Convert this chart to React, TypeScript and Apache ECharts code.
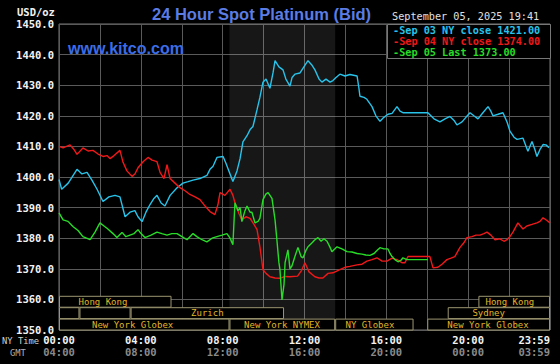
import React, { useEffect, useRef } from "react";
import * as echarts from "echarts";

// [hour of NY day, price]
const sep03: [number, number][] = [
  [0, 1399.2], [0.13, 1396], [0.45, 1398], [0.88, 1402.5], [1.12, 1401], [1.37, 1401.5], [1.61, 1399],
  [1.86, 1396], [2.15, 1392], [2.44, 1393.5], [2.74, 1394], [2.98, 1393.5], [3.23, 1387], [3.47, 1388.5],
  [3.71, 1389], [3.86, 1387], [4.06, 1385.4], [4.25, 1388.5], [4.45, 1391], [4.64, 1393], [4.79, 1394],
  [4.99, 1391.5], [5.18, 1390.5], [5.43, 1394], [5.77, 1396.5], [6.06, 1398], [6.31, 1398.5], [6.55, 1399],
  [6.89, 1399.5], [7.23, 1400.5], [7.38, 1402.5], [7.53, 1403.5], [7.72, 1406.4], [8.02, 1406.7],
  [8.16, 1404.5], [8.36, 1401], [8.5, 1398.5], [8.7, 1402], [8.85, 1406], [8.99, 1411.5], [9.19, 1413.5],
  [9.34, 1415.5], [9.48, 1416.5], [9.68, 1422], [9.82, 1426], [9.97, 1431], [10.12, 1432], [10.31, 1429],
  [10.46, 1434], [10.56, 1438], [10.75, 1436], [10.95, 1435], [11.09, 1432], [11.29, 1429.7], [11.39, 1432.5],
  [11.53, 1433.6], [11.78, 1434], [11.97, 1436], [12.17, 1438], [12.37, 1436.5], [12.51, 1435], [12.71, 1432],
  [12.85, 1431], [13.05, 1432], [13.25, 1431], [13.39, 1431.5], [13.54, 1432.5], [13.73, 1433.6], [13.98, 1433],
  [14.22, 1433.5], [14.57, 1433], [14.66, 1429], [14.71, 1426.4], [14.91, 1426], [15.05, 1425.4], [15.3, 1423],
  [15.49, 1420], [15.69, 1418.2], [15.88, 1419.5], [16.08, 1420.5], [16.28, 1420.8], [16.52, 1423],
  [16.67, 1421.5], [16.81, 1421], [18.03, 1421], [18.33, 1419], [18.62, 1418], [18.87, 1419], [19.11, 1419.8],
  [19.31, 1418.5], [19.45, 1417], [19.7, 1418], [19.89, 1419.5], [20.09, 1421], [20.28, 1420], [20.48, 1419],
  [20.72, 1421], [20.97, 1423], [21.11, 1421.5], [21.21, 1420], [21.46, 1420.5], [21.7, 1421], [21.9, 1418],
  [22.04, 1415], [22.24, 1413], [22.39, 1412.3], [22.68, 1412.7], [22.92, 1408.4], [23.12, 1411.6],
  [23.26, 1409], [23.36, 1406.7], [23.51, 1409], [23.66, 1410.6], [23.8, 1410.5], [23.95, 1409.6],
];

const sep04: [number, number][] = [
  [0, 1410], [0.2, 1409.5], [0.54, 1410.5], [0.73, 1409], [0.88, 1407.4], [1.17, 1409.5], [1.42, 1408.5],
  [1.66, 1408.7], [1.91, 1407.5], [2.15, 1406.7], [2.35, 1407], [2.49, 1406], [2.69, 1407], [2.98, 1408.7],
  [3.13, 1404.8], [3.32, 1402], [3.57, 1400.2], [3.71, 1401], [3.86, 1403], [4.11, 1405], [4.35, 1406.4],
  [4.55, 1405.5], [4.79, 1405], [4.94, 1401.5], [5.13, 1399.5], [5.28, 1404], [5.43, 1399.5], [5.67, 1398],
  [5.91, 1396.5], [6.16, 1395.5], [6.4, 1394.3], [6.65, 1393.5], [6.89, 1392.6], [7.14, 1390.5], [7.38, 1388.7],
  [7.62, 1387.7], [7.77, 1391], [7.87, 1394.9], [8.11, 1394], [8.36, 1396], [8.5, 1394], [8.6, 1391.6],
  [8.8, 1388], [8.94, 1386], [9.14, 1387], [9.34, 1386.5], [9.53, 1384.5], [9.68, 1382.8], [9.82, 1377.2],
  [9.97, 1369.7], [10.12, 1368.5], [10.31, 1367.4], [10.56, 1367], [10.8, 1366.9], [11.05, 1367.5],
  [11.29, 1367.4], [11.66, 1367.6], [11.86, 1369.5], [12.02, 1372], [12.22, 1369], [12.51, 1367.4],
  [12.71, 1367], [12.9, 1367], [13.15, 1368.5], [13.39, 1368.7], [13.73, 1369.7], [13.98, 1370.5],
  [14.22, 1370.8], [14.57, 1371.3], [14.81, 1371.5], [15.05, 1372.5], [15.3, 1373], [15.54, 1373.6],
  [15.79, 1372.5], [16.03, 1372.5], [16.28, 1373.5], [16.52, 1373], [16.76, 1372], [16.91, 1372],
  [17.06, 1374], [18.13, 1374], [18.28, 1370.3], [18.52, 1370.5], [18.72, 1371.5], [18.96, 1373],
  [19.16, 1373.5], [19.35, 1374], [19.6, 1377], [19.79, 1378.5], [19.94, 1380.2], [20.19, 1380.5],
  [20.38, 1381], [20.58, 1381], [20.77, 1381.5], [20.92, 1382], [21.11, 1381], [21.31, 1379.5], [21.55, 1379.8],
  [21.75, 1379], [21.9, 1379.5], [22.04, 1380.5], [22.19, 1382], [22.43, 1385], [22.68, 1383], [22.87, 1384],
  [23.12, 1384.5], [23.36, 1385], [23.51, 1385.5], [23.66, 1386.7], [23.85, 1385.8], [24, 1385],
];

const sep05: [number, number][] = [
  [0, 1388.3], [0.2, 1386], [0.44, 1385.5], [0.68, 1383.8], [0.93, 1382.5], [1.17, 1380.5], [1.52, 1379.5],
  [1.76, 1382], [2.0, 1385], [2.2, 1384], [2.39, 1383], [2.64, 1381.5], [2.83, 1380.2], [3.08, 1381.9],
  [3.27, 1380.5], [3.47, 1381], [3.67, 1381.5], [3.86, 1382.8], [4.01, 1381.5], [4.2, 1380.2], [4.5, 1381],
  [4.79, 1382], [5.03, 1381.5], [5.28, 1381], [5.52, 1381.5], [5.77, 1381.5], [6.01, 1380.5], [6.26, 1379.5],
  [6.55, 1381.5], [6.74, 1380.5], [6.99, 1379.5], [7.23, 1378.8], [7.48, 1380], [7.72, 1380.5], [7.97, 1381],
  [8.21, 1381.5], [8.36, 1380], [8.5, 1377.9], [8.6, 1391.6], [8.75, 1389], [8.85, 1390], [8.94, 1385.4],
  [9.09, 1389], [9.19, 1390.5], [9.34, 1388.5], [9.43, 1388.5], [9.58, 1385], [9.73, 1385.5], [9.82, 1386.5],
  [9.97, 1392.6], [10.12, 1394.5], [10.22, 1394.9], [10.41, 1393], [10.56, 1386], [10.65, 1379.5],
  [10.75, 1372], [10.8, 1369.7], [10.9, 1359.8], [11.0, 1365], [11.05, 1372], [11.19, 1376.2], [11.29, 1370],
  [11.39, 1371], [11.53, 1374], [11.68, 1377], [11.83, 1374], [11.93, 1373.6], [12.07, 1376], [12.17, 1377.2],
  [12.37, 1378.5], [12.51, 1379.5], [12.66, 1380.2], [12.81, 1379], [12.95, 1379.8], [13.1, 1379],
  [13.25, 1377], [13.34, 1375.6], [13.59, 1377.2], [13.83, 1376.5], [14.08, 1375.6], [14.32, 1375.5],
  [14.57, 1375], [14.81, 1374.8], [15.0, 1374.5], [15.2, 1374.4], [15.4, 1375], [15.54, 1376], [15.69, 1376.9],
  [15.88, 1376.5], [16.08, 1376.5], [16.18, 1375], [16.28, 1374], [16.42, 1373], [16.57, 1372.3],
  [16.72, 1372.8], [16.81, 1373.6], [17.01, 1373], [18.03, 1373],
];

const nyTimeLabels = ["00:00", "04:00", "08:00", "12:00", "16:00", "20:00", "23:59"];
const gmtLabels = ["04:00", "08:00", "12:00", "16:00", "20:00", "00:00", "03:59"];

const legendTexts = ["-Sep 03 NY close 1421.00", "-Sep 04 NY close 1374.00", "-Sep 05 Last 1373.00"];

// NYMEX trading hours shading
const nymexHours = [8.333, 13.5];

// sessions: [startHour, endHour, row (0 = bottom), labelCenterHour]
const sessionSpans: [number, number, number, number][] = [
  [0, 5.5, 2, 2.15],
  [20.5, 24, 2, 22.04],
  [0, 1, 1, 0.5],
  [1, 3.5, 1, 2.25],
  [3.5, 11, 1, 7.25],
  [19, 24, 1, 21.0],
  [0, 8.333, 0, 3.6],
  [8.333, 13.5, 0, 10.9],
  [13.5, 17.33, 0, 15.2],
  [18, 24, 0, 20.97],
];
const sessionNames = [
  "Hong Kong", "Hong Kong", "", "", "Zurich", "Sydney",
  "New York Globex", "New York NYMEX", "NY Globex", "New York Globex",
];

const MONO = "'DejaVu Sans Mono', monospace";
const CYAN = "#27c3ea";
const RED = "#f01818";
const GREEN = "#27dd27";

export default function App() {
  const ref = useRef<HTMLDivElement>(null);

  useEffect(() => {
    document.body.style.margin = "0";
    document.body.style.background = "#000";
    const chart = echarts.init(ref.current!, null, { renderer: "svg" });
    const rowH = 11.4;
    chart.setOption({
      animation: false,
      backgroundColor: "#000",
      grid: { left: 59, right: 10, top: 24, bottom: 34, show: true, borderColor: "#777", borderWidth: 1 },
      xAxis: {
        type: "value",
        min: 0,
        max: 24,
        interval: 2,
        axisLine: { show: false },
        axisTick: { show: false },
        splitLine: { show: true, lineStyle: { color: "#5a5a5a", width: 1 } },
        axisLabel: {
          margin: 4,
          showMaxLabel: true,
          alignMaxLabel: "right",
          formatter: (v: number) => {
            if (v % 4 !== 0) return "";
            const i = v / 4;
            return `{a|${nyTimeLabels[i]}}\n{b|${gmtLabels[i]}}`;
          },
          rich: {
            a: { color: "#f2f2f2", fontFamily: MONO, fontSize: 10.5, fontWeight: "bold", lineHeight: 12 },
            b: { color: "#8a8a8a", fontFamily: MONO, fontSize: 10.5, fontWeight: "bold", lineHeight: 12 },
          },
        },
      },
      yAxis: {
        type: "value",
        min: 1350,
        max: 1450,
        interval: 10,
        axisLine: { show: false },
        axisTick: { show: false },
        splitLine: { show: true, lineStyle: { color: "#5a5a5a", width: 1 } },
        axisLabel: {
          margin: 5,
          color: "#f2f2f2",
          fontFamily: MONO,
          fontSize: 10.5,
          fontWeight: "bold",
          formatter: (v: number) => v.toFixed(1),
        },
      },
      series: [
        {
          type: "custom",
          coordinateSystem: "cartesian2d",
          silent: true,
          clip: false,
          z: 1,
          encode: { x: [0, 1], y: 2 },
          data: sessionSpans,
          renderItem: (params: any, api: any) => {
            const s = api.coord([api.value(0), 1350]);
            const e = api.coord([api.value(1), 1350]);
            const c = api.coord([api.value(3), 1350]);
            const row = api.value(2);
            const yTop = s[1] - (row + 1) * rowH;
            return {
              type: "group",
              children: [
                {
                  type: "rect",
                  shape: { x: s[0] + 0.5, y: yTop + 0.5, width: e[0] - s[0] - 1, height: rowH - 0.5 },
                  style: { fill: "#000", stroke: "#9c9670", lineWidth: 1 },
                },
                {
                  type: "text",
                  x: c[0],
                  y: yTop + rowH / 2 + 0.5,
                  style: {
                    text: sessionNames[params.dataIndex],
                    fill: "#e2b62a",
                    font: `9px ${MONO}`,
                    align: "center",
                    verticalAlign: "middle",
                  },
                },
              ],
            };
          },
        },
        {
          type: "line",
          data: sep03,
          showSymbol: false,
          z: 3,
          lineStyle: { color: CYAN, width: 1.4 },
          markArea: {
            silent: true,
            itemStyle: { color: "rgba(255,255,255,0.09)" },
            data: [[{ xAxis: nymexHours[0] }, { xAxis: nymexHours[1] }]],
          },
        },
        { type: "line", data: sep04, showSymbol: false, z: 4, lineStyle: { color: RED, width: 1.4 } },
        { type: "line", data: sep05, showSymbol: false, z: 5, lineStyle: { color: GREEN, width: 1.4 } },
      ],
      graphic: [
        {
          type: "text",
          left: 152,
          top: 5,
          style: { text: "24 Hour Spot Platinum (Bid)", fill: "#5a7ce4", font: "bold 16.5px 'Liberation Sans', Arial, sans-serif" },
        },
        {
          type: "text",
          left: 68,
          top: 40,
          z: 10,
          style: { text: "www.kitco.com", fill: "#3b6de8", font: "bold 16px 'Liberation Sans', Arial, sans-serif" },
        },
        {
          type: "text",
          left: 17,
          top: 6,
          style: { text: "USD/oz", fill: "#f2f2f2", font: `bold 10.5px ${MONO}` },
        },
        {
          type: "text",
          left: 392,
          top: 11,
          style: { text: "September 05, 2025 19:41", fill: "#e0e0e0", font: `10.2px ${MONO}` },
        },
        {
          type: "rect",
          z: 10,
          shape: { x: 387.5, y: 24.5, width: 163, height: 34 },
          style: { fill: "#000", stroke: "#777", lineWidth: 1 },
        },
        ...legendTexts.map((t, i) => ({
          type: "text",
          z: 11,
          left: 393,
          top: 25 + i * 11.3,
          style: { text: t, fill: [CYAN, RED, GREEN][i], font: `bold 10.2px ${MONO}` },
        })),
        {
          type: "text",
          left: 2,
          top: 336,
          style: { text: "NY Time", fill: "#d0d0d0", font: `8.8px ${MONO}` },
        },
        {
          type: "text",
          left: 10,
          top: 348,
          style: { text: "GMT", fill: "#b0b0b0", font: `8.8px ${MONO}` },
        },
      ],
    });
    return () => chart.dispose();
  }, []);

  return <div ref={ref} style={{ width: 560, height: 364, background: "#000" }} />;
}
